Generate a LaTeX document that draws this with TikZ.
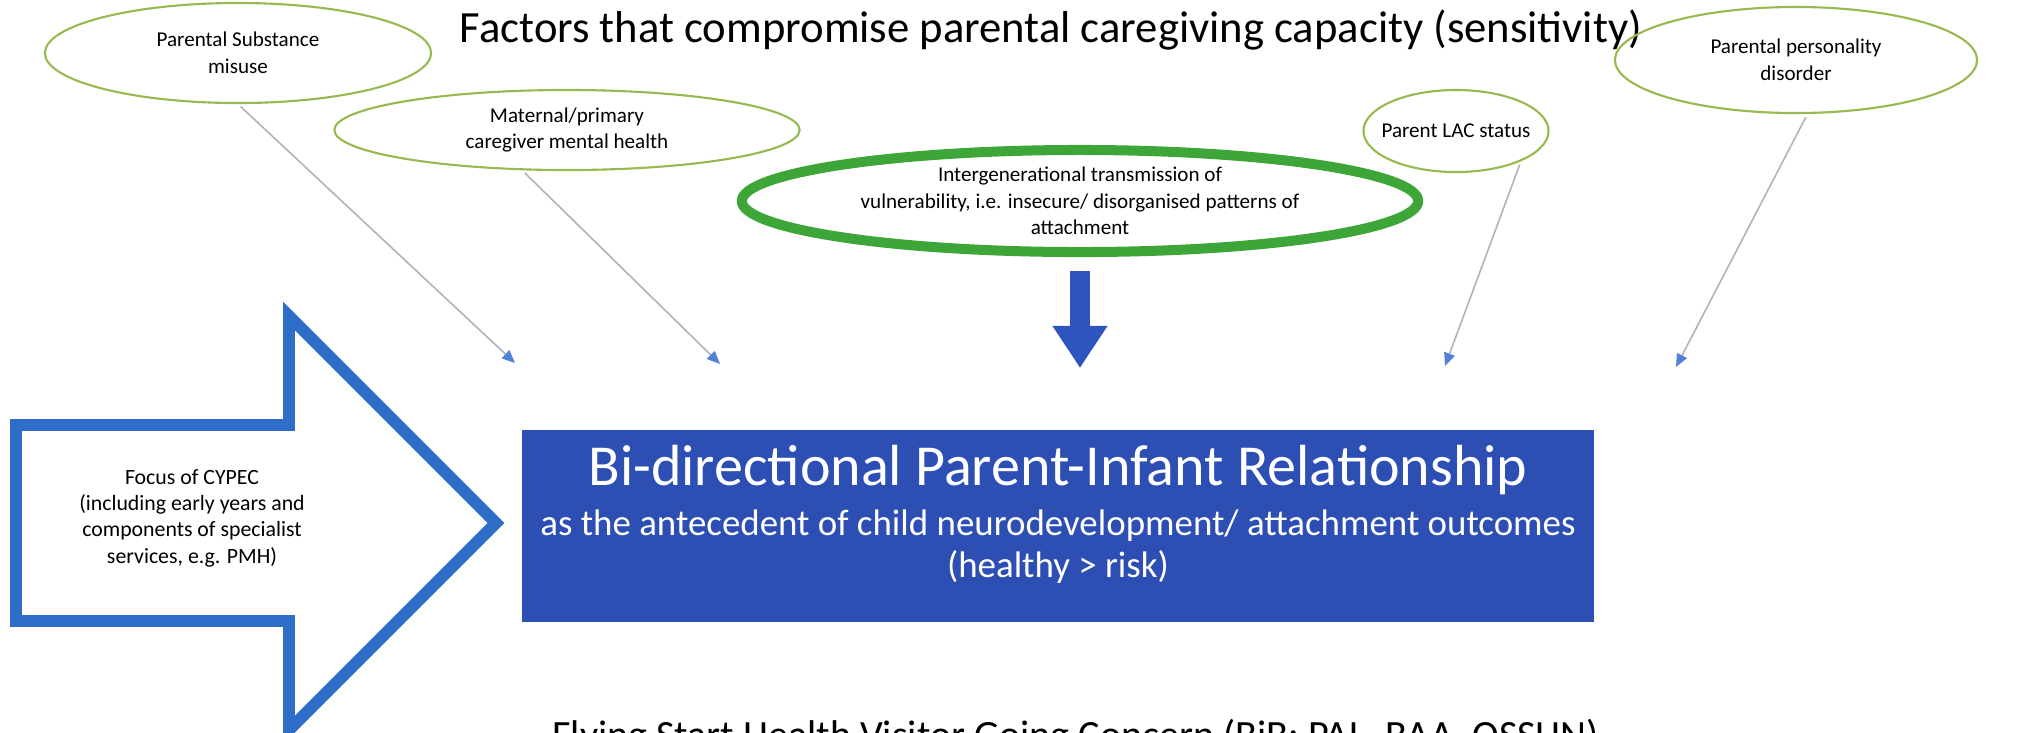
\documentclass[tikz,border=0pt]{standalone}
\usepackage{fontspec}
\setmainfont{Carlito}
\usepackage{tikz}
\usetikzlibrary{arrows.meta,shapes.geometric}
\definecolor{leafgreen}{RGB}{150,186,80}
\definecolor{ringgreen}{RGB}{62,166,56}
\definecolor{relblue}{RGB}{45,78,178}
\definecolor{dropblue}{RGB}{46,84,192}
\definecolor{focusblue}{RGB}{46,110,200}
\definecolor{tipblue}{RGB}{84,128,214}
\definecolor{feedgray}{RGB}{172,178,190}
\tikzset{
    factor/.style={ellipse,draw=leafgreen,line width=0.6pt,inner sep=0pt},
    factortext/.style={align=center,inner sep=0pt,font=\fontsize{6}{7.6}\selectfont},
    feed/.style={draw=feedgray,line width=0.45pt,shorten <=1pt,-{Triangle[color=tipblue,width=0.11cm,length=0.13cm]}},
    reltext/.style={text=white,inner sep=0pt}
}
\begin{document}
\begin{tikzpicture}[x=0.01cm,y=-0.01cm]
    \useasboundingbox (0,0) rectangle (2029,732);
    \clip (0,0) rectangle (2029,732);

    % Heading
    \node[font=\fontsize{12.7}{15}\selectfont] (title) at (1051,30) {Factors that compromise parental caregiving capacity (sensitivity)};

    % The factors
    \node[factor,minimum width=3.86cm,minimum height=1cm] (subst) at (238,53) {};
    \node[factortext] (substtext) at (subst) {Parental Substance\\misuse};
    \node[factor,minimum width=4.65cm,minimum height=0.8cm] (mental) at (567,130) {};
    \node[factortext] (mentaltext) at (mental) {Maternal/primary\\caregiver mental health};
    \node[factor,draw=ringgreen,line width=2.85pt,minimum width=6.76cm,minimum height=1.02cm] (trans) at (1080,201) {};
    \node[factortext] (transtext) at (trans) {Intergenerational transmission of\\vulnerability, i.e. insecure/ disorganised patterns of\\attachment};
    \node[factor,minimum width=1.85cm,minimum height=0.82cm] (lac) at (1456,131) {};
    \node[factortext] (lactext) at (lac) {Parent LAC status};
    \node[factor,minimum width=3.62cm,minimum height=1.06cm] (pers) at (1796,60) {};
    \node[factortext] (perstext) at (pers) {Parental personality\\disorder};

    % Where the feeds land
    \coordinate (aima) at (515,363);
    \coordinate (aimb) at (720,364);
    \coordinate (aimc) at (1445,366);
    \coordinate (aimd) at (1676,367);
    \coordinate (droptip) at (1080,368);

    \draw[feed] (subst.south) -- (aima);
    \draw[feed] (mental.-138) -- (aimb);
    \draw[feed] (lac.-25) -- (aimc);
    \draw[feed] (pers.-78) -- (aimd);
    \draw[dropblue,line width=0.2cm,shorten <=0.14cm,-{Triangle[width=0.52cm,length=0.42cm]}] (trans.south) -- (droptip);

    % CYPEC arrow
    \draw[focusblue,line width=3.4pt,fill=white] (16,425) -- (289,425) -- (289,316) -- (496,523) -- (289,730) -- (289,621) -- (16,621) -- cycle;
    \node[factortext,font=\fontsize{6.2}{7.5}\selectfont] (focus) at (192,518) {Focus of CYPEC\\(including early years and\\components of specialist\\services, e.g. PMH)};

    % The relationship
    \node[fill=relblue,minimum width=10.71cm,minimum height=1.92cm,inner sep=0pt] (rel) at (1058,526) {};
    \node[reltext,font=\fontsize{16.5}{20}\selectfont] (relmain) at (1058,470) {Bi-directional Parent-Infant Relationship};
    \node[reltext,font=\fontsize{10.5}{13}\selectfont] (relsub) at (1058,526) {as the antecedent of child neurodevelopment/ attachment outcomes};
    \node[reltext,font=\fontsize{10.5}{13}\selectfont] (relnote) at (1058,567) {(healthy > risk)};

    \node[anchor=base west,font=\fontsize{11.4}{13}\selectfont] (credit) at (540,748) {Flying Start Health Visitor Going Concern (BiB: PAL, BAA, OSSHN)};
\end{tikzpicture}
\end{document}
